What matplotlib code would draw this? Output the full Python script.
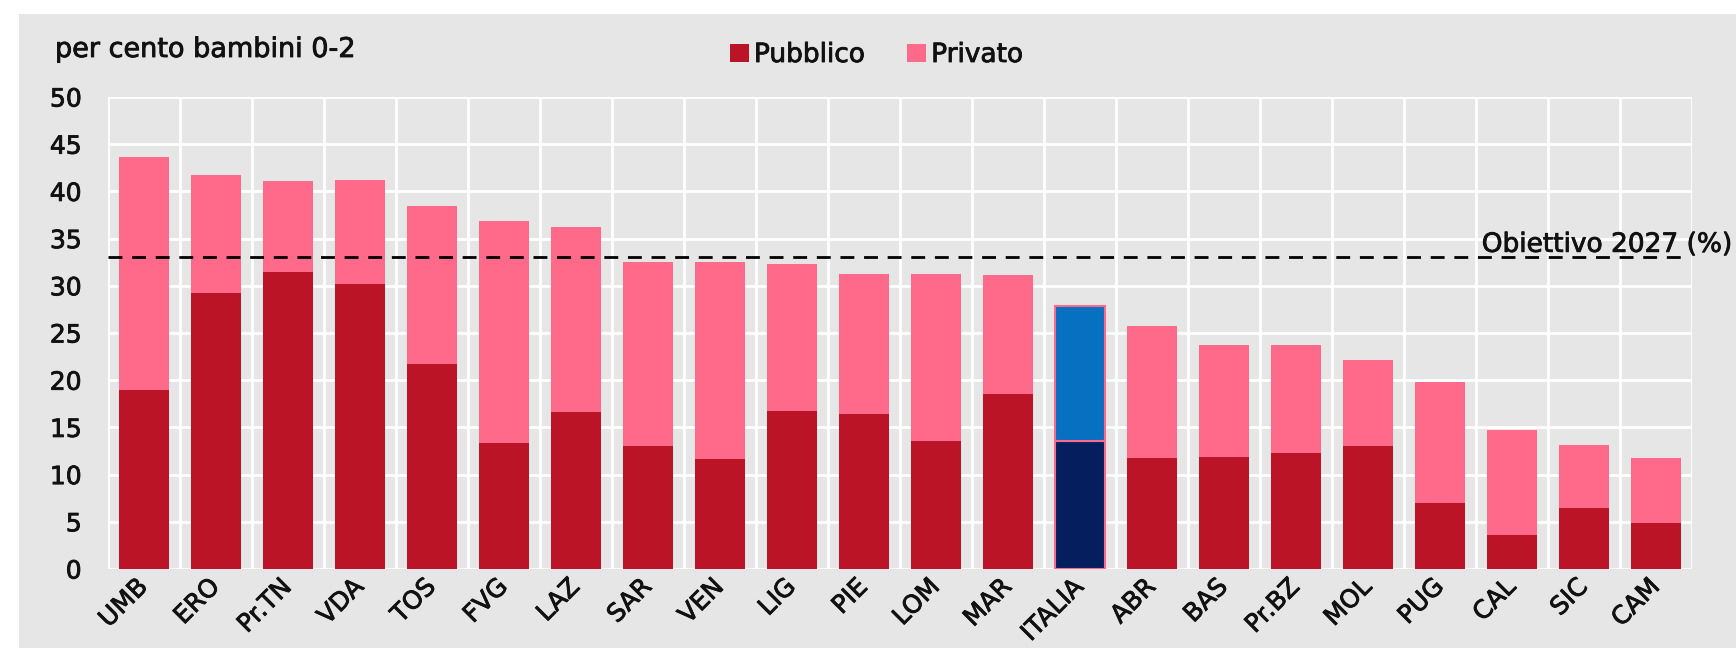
import matplotlib
matplotlib.use('Agg')
import matplotlib.pyplot as plt
import matplotlib.patheffects as pe
from matplotlib.patches import Patch, Rectangle
import numpy as np

plt.rcParams['font.family'] = ['DejaVu Sans']

regioni = ['UMB', 'ERO', 'Pr.TN', 'VDA', 'TOS', 'FVG', 'LAZ', 'SAR', 'VEN', 'LIG', 'PIE',
           'LOM', 'MAR', 'ITALIA', 'ABR', 'BAS', 'Pr.BZ', 'MOL', 'PUG', 'CAL', 'SIC', 'CAM']
pubblico = [19.0, 29.2, 31.5, 30.2, 21.7, 13.3, 16.6, 13.0, 11.7, 16.7, 16.4,
            13.6, 18.5, 13.6, 11.8, 11.9, 12.3, 13.0, 7.0, 3.6, 6.5, 4.9]
privato = [24.6, 12.5, 9.6, 11.0, 16.8, 23.6, 19.6, 19.5, 20.8, 15.6, 14.9,
           17.7, 12.6, 14.3, 13.9, 11.8, 11.4, 9.1, 12.8, 11.1, 6.6, 6.9]
obiettivo = 33

c_pub = '#BA1426'
c_priv = '#FF6A8A'
c_pub_it = '#041E5E'
c_priv_it = '#0870C0'
bg = '#E6E6E6'
txt = '#111111'
# slightly heavier strokes, the original text looks darker than plain DejaVu
thick = [pe.withStroke(linewidth=0.6, foreground=txt)]

fig = plt.figure(figsize=(17.36, 6.48), dpi=100)
fig.patches.append(Rectangle((19/1736, 0), 1, 1 - 14/648, transform=fig.transFigure,
                             facecolor=bg, edgecolor='none', zorder=-10))
ax = fig.add_axes([108/1736, 1 - 569/648, (1692 - 108)/1736, (569 - 97)/648])
ax.set_zorder(1)
ax.set_facecolor(bg)

x = np.arange(len(regioni))
col_pub = [c_pub_it if r == 'ITALIA' else c_pub for r in regioni]
col_priv = [c_priv_it if r == 'ITALIA' else c_priv for r in regioni]
ax.bar(x, pubblico, width=0.7, color=col_pub, zorder=2)
ax.bar(x, privato, width=0.7, bottom=pubblico, color=col_priv, zorder=2)
i = regioni.index('ITALIA')
ax.bar(i, pubblico[i], width=0.7, color=c_pub_it, edgecolor=c_priv, lw=1.5, zorder=3)
ax.bar(i, privato[i], bottom=pubblico[i], width=0.7, color=c_priv_it,
       edgecolor=c_priv, lw=1.5, zorder=3)

ax.axhline(obiettivo, xmin=0, xmax=0.993, color='black', lw=2,
           linestyle=(0, (5.0, 3.5)), zorder=4)
ax.text(18.58, 33.6, 'Obiettivo 2027 (%)', fontsize=19, va='baseline', ha='left',
        color=txt, zorder=5, path_effects=thick)

ax.set_xlim(-0.5, len(regioni) - 0.5)
ax.set_ylim(0, 50)
ax.set_yticks(np.arange(0, 51, 5))
ax.set_xticks(x)
ax.set_xticklabels(regioni, rotation=45, ha='right', va='center', rotation_mode='anchor')
ax.set_xticks(np.arange(-0.5, len(regioni), 1), minor=True)
ax.tick_params(axis='y', length=0, pad=19, labelsize=18, labelcolor=txt)
ax.tick_params(axis='x', which='major', length=0, pad=10, labelsize=18, labelcolor=txt)
ax.tick_params(axis='x', which='minor', length=0)
for lab in ax.get_xticklabels() + ax.get_yticklabels():
    lab.set_path_effects(thick)
ax.grid(axis='y', which='major', color='white', lw=2)
ax.grid(axis='x', which='minor', color='white', lw=2)
ax.grid(axis='x', which='major', visible=False)
ax.set_axisbelow(True)
for s in ax.spines.values():
    s.set_visible(False)

fig.text(55/1736, 1 - 57/648, 'per cento bambini 0-2', fontsize=19.5, va='baseline',
         ha='left', color=txt, path_effects=thick)

handles = [Patch(facecolor=c_pub, label='Pubblico'), Patch(facecolor=c_priv, label='Privato')]
leg = fig.legend(handles=handles, loc='center', bbox_to_anchor=(0.505, 1 - 55/648), ncol=2,
                 frameon=False, fontsize=19, handlelength=0.7, handleheight=0.7,
                 handletextpad=0.2, columnspacing=1.6)
for t in leg.get_texts():
    t.set_color(txt)
    t.set_path_effects(thick)

fig.savefig('out.png', dpi=100, facecolor='white')
